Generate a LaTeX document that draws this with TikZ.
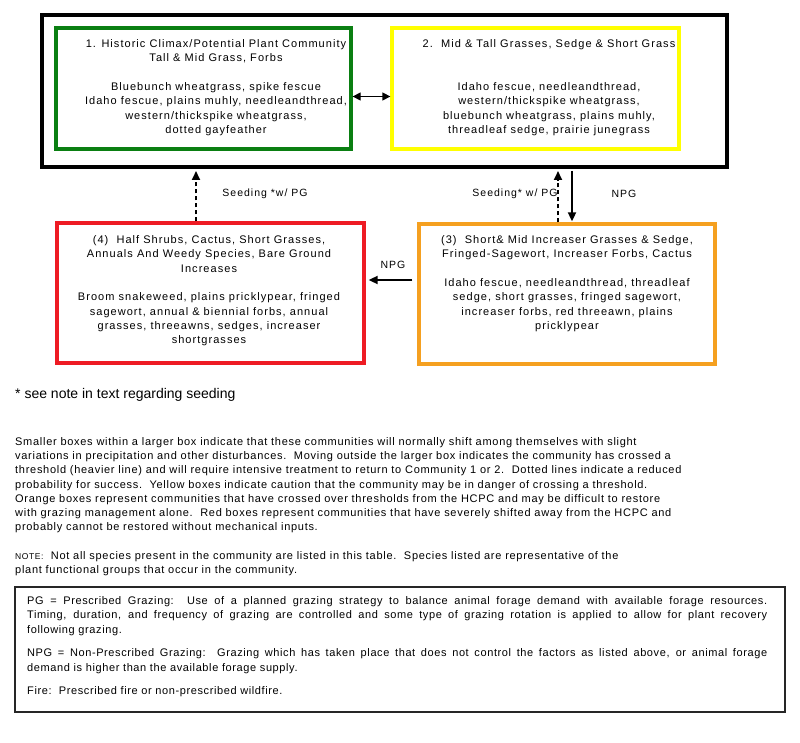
\documentclass[tikz,border=0pt]{standalone}
\usepackage{fontspec}
\setmainfont{Liberation Sans}
\newfontfamily\boxfont{Liberation Sans}[LetterSpace=9.5]
\newfontfamily\notefont{Liberation Sans}[LetterSpace=5.5]
\newfontfamily\parfont{Liberation Sans}[LetterSpace=6.5]
\usepackage{tikz}
\usetikzlibrary{arrows.meta, positioning, calc}
\definecolor{hcpc-green}{HTML}{0A7F12}
\definecolor{caution-yellow}{HTML}{FFFF00}
\definecolor{cross-orange}{HTML}{F5A020}
\definecolor{shift-red}{HTML}{EE1B24}

\tikzset{
    statebox/.style={draw, line width=3.3pt, inner sep=0pt},
    boxtext/.style={align=center, inner sep=0pt, anchor=north, font=\boxfont\fontsize{11}{14.3}\selectfont},
    lbl/.style={inner sep=0pt, font=\boxfont\fontsize{10.5}{12}\selectfont},
    notetext/.style={anchor=north west, align=left, inner sep=0pt, font=\parfont\fontsize{11}{14.3}\selectfont},
    onearrow/.style={line width=1.8pt, -{Triangle[length=9pt,width=8pt]}},
    seedarrow/.style={onearrow, dash pattern=on 4pt off 3pt}
}

\begin{document}
\begin{tikzpicture}[x=1pt, y=-1pt]
    \useasboundingbox (0,0) rectangle (800,743);

    % Threshold box round communities 1 and 2
    \node[draw, line width=4pt, minimum width=685pt, minimum height=152pt] (state) at (384.5,91) {};

    % Community boxes
    \node[statebox, hcpc-green, minimum width=295pt, minimum height=121pt] (hcpc) at (203.5,88.5) {};
    \node[statebox, caution-yellow, minimum width=287pt, minimum height=121pt] (midtall) at (535.5,88.5) {};
    \node[statebox, shift-red, minimum width=307pt, minimum height=140pt] (halfshrub) at (210.5,293) {};
    \node[statebox, cross-orange, minimum width=296pt, minimum height=140pt] (shortmid) at (567,294) {};

    % Box texts
    \node[boxtext] (hcpctext) at (216,39.5) {1. Historic Climax/Potential Plant Community\\Tall \& Mid Grass, Forbs\\[14.3pt]
        Bluebunch wheatgrass, spike fescue\\Idaho fescue, plains muhly, needleandthread,\\western/thickspike wheatgrass,\\dotted gayfeather};
    \node[boxtext] (midtalltext) at (549,39.5) {2.\ \ Mid \& Tall Grasses, Sedge \& Short Grass\\[28.6pt]
        Idaho fescue, needleandthread,\\western/thickspike wheatgrass,\\bluebunch wheatgrass, plains muhly,\\threadleaf sedge, prairie junegrass};
    \node[boxtext] (halfshrubtext) at (209,235.5) {(4)\ \ Half Shrubs, Cactus, Short Grasses,\\Annuals And Weedy Species, Bare Ground\\Increases\\[14.3pt]
        Broom snakeweed, plains pricklypear, fringed\\sagewort, annual \& biennial forbs, annual\\grasses, threeawns, sedges, increaser\\shortgrasses};
    \node[boxtext] (shortmidtext) at (567,235.5) {(3)\ \ Short\& Mid Increaser Grasses \& Sedge,\\Fringed-Sagewort, Increaser Forbs, Cactus\\[14.3pt]
        Idaho fescue, needleandthread, threadleaf\\sedge, short grasses, fringed sagewort,\\increaser forbs, red threeawn, plains\\pricklypear};

    % Transitions
    \draw[line width=1.3pt, {Triangle[length=8pt,width=8pt]}-{Triangle[length=8pt,width=8pt]}] ([yshift=-8pt]hcpc.east) -- ([yshift=-8pt]midtall.west);
    \draw[seedarrow, shorten >=2pt] ([xshift=-14.5pt]halfshrub.north) -- ([xshift=-14.5pt]halfshrub.north |- state.south);
    \draw[seedarrow, shorten >=2pt] ([xshift=-9pt]shortmid.north) -- ([xshift=-9pt]shortmid.north |- state.south);
    \draw[onearrow, shorten <=2pt, shorten >=1pt] ([xshift=5pt]shortmid.north |- state.south) -- ([xshift=5pt]shortmid.north);
    \draw[onearrow, shorten <=5pt, shorten >=3pt] ([yshift=14pt]shortmid.west) -- ([yshift=14pt]shortmid.west -| halfshrub.east);

    \node[lbl] (seedleft) at (265,194) {Seeding *w/ PG};
    \node[lbl] (seedright) at (515,194) {Seeding* w/ PG};
    \node[lbl] (npgdown) at (624,194) {NPG};
    \node[lbl] (npgleft) at (393,265) {NPG};

    % Notes below the diagram
    \node[anchor=west, inner sep=0pt, font=\fontsize{14}{16}\selectfont] (seednote) at (15,395) {* see note in text regarding seeding};

    \node[notetext] (boxnote) at (15,437) {Smaller boxes within a larger box indicate that these communities will normally shift among themselves with slight\\
        variations in precipitation and other disturbances.\ \ Moving outside the larger box indicates the community has crossed a\\
        threshold (heavier line) and will require intensive treatment to return to Community 1 or 2.\ \ Dotted lines indicate a reduced\\
        probability for success.\ \ Yellow boxes indicate caution that the community may be in danger of crossing a threshold.\\
        Orange boxes represent communities that have crossed over thresholds from the HCPC and may be difficult to restore\\
        with grazing management alone.\ \ Red boxes represent communities that have severely shifted away from the HCPC and\\
        probably cannot be restored without mechanical inputs.};

    \node[notetext] (speciesnote) at (15,551) {{\fontsize{8.5}{9}\selectfont NOTE:}\ \ Not all species present in the community are listed in this table.\ \ Species listed are representative of the\\
        plant functional groups that occur in the community.};

    % Grazing legend
    \node[draw, line width=1.2pt, black!85, minimum width=770pt, minimum height=125pt] (legend) at (400,649.5) {};
    \node[notetext, font=\notefont\fontsize{11}{14.5}\selectfont] (legendtext) at (27,596) {\makebox[740pt][s]{PG = Prescribed Grazing:\ \ Use of a planned grazing strategy to balance animal forage demand with available forage resources.}\\
        \makebox[740pt][s]{Timing, duration, and frequency of grazing are controlled and some type of grazing rotation is applied to allow for plant recovery}\\
        following grazing.\\[9pt]
        \makebox[740pt][s]{NPG = Non-Prescribed Grazing:\ \ Grazing which has taken place that does not control the factors as listed above, or animal forage}\\
        demand is higher than the available forage supply.\\[9pt]
        Fire:\ \ Prescribed fire or non-prescribed wildfire.};
\end{tikzpicture}
\end{document}
